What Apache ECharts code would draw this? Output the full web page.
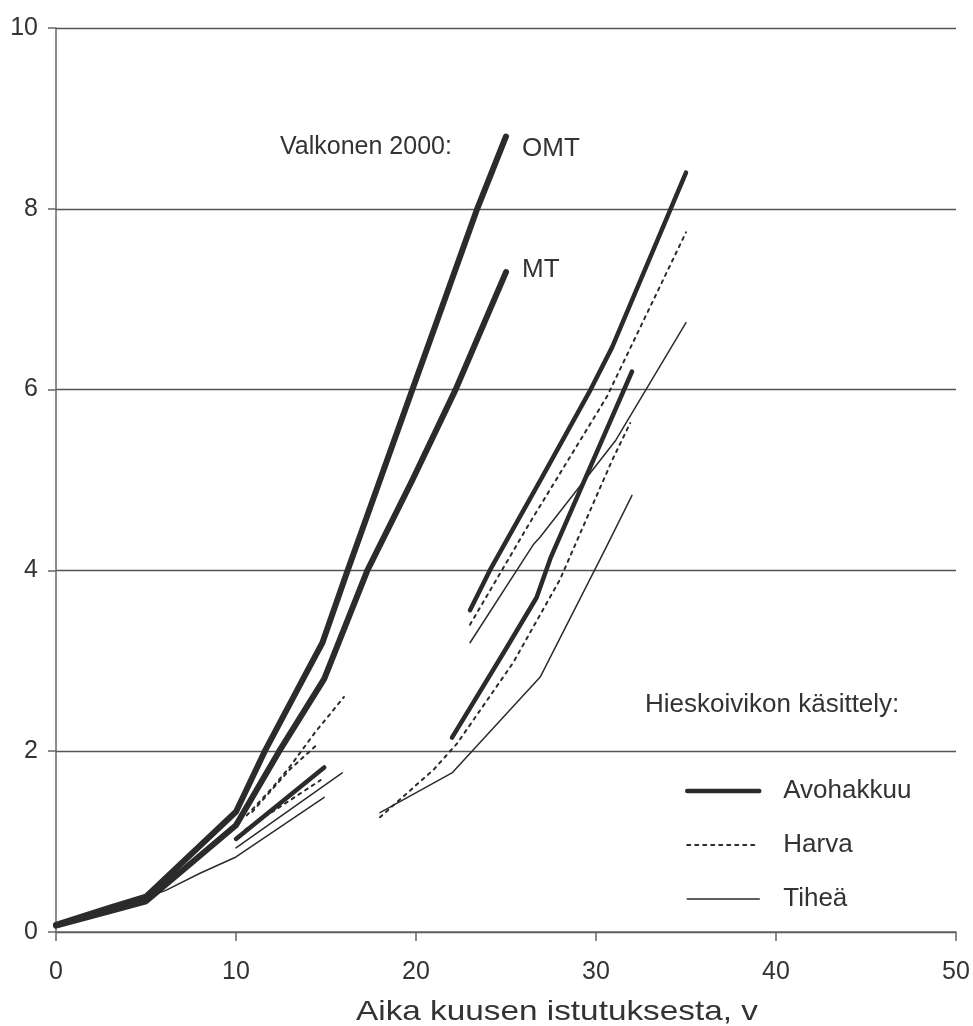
<!DOCTYPE html>
<html>
<head>
<meta charset="utf-8">
<script src="https://cdn.jsdelivr.net/npm/echarts@6/dist/echarts.min.js"></script>
<style>
  html, body { margin: 0; padding: 0; background: #fff; }
  #chart { width: 973px; height: 1026px; }
</style>
</head>
<body>
<div id="chart"></div>
<script>
// axis ticks
const xTicks = [0, 10, 20, 30, 40, 50]
const yTicks = [0, 2, 4, 6, 8, 10]

// Valkonen 2000 curves
const valkonenOMT = [[0, 0.08], [3, 0.27], [5, 0.39], [10, 1.33], [11.6, 2.0], [13.7, 2.79], [14.8, 3.2], [16.2, 4.0], [18, 5.0], [19.8, 6.0], [21.6, 7.0], [23.4, 8.0], [25, 8.8]]
const valkonenMT = [[0, 0.07], [3, 0.23], [5, 0.34], [10, 1.18], [12.4, 2.0], [14.9, 2.8], [17.3, 4.0], [19.8, 5.0], [22.2, 6.0], [25, 7.3]]

// group 1 (age 10-16)
const avoA = [[10, 1.03], [14.9, 1.82]]
const harvaA = [[10.5, 1.13], [14.7, 1.68]]
const harvaA2 = [[10.6, 1.29], [12, 1.59], [13, 1.83], [14.4, 2.21], [16, 2.6]]
const harvaA3 = [[10.9, 1.33], [13, 1.8], [14.6, 2.09]]
const tiheA = [[10, 0.93], [15.9, 1.76]]
const tiheA2 = [[5, 0.38], [6.1, 0.46], [8, 0.65], [10, 0.83], [14.9, 1.49]]

// group 2 (age 18-32)
const avoB = [[22, 2.15], [24.9, 3.1], [26.7, 3.7], [27.5, 4.15], [32, 6.2]]
const harvaB = [[18, 1.27], [21, 1.8], [22.3, 2.09], [25.4, 2.98], [28, 3.9], [30.9, 5.22], [31.9, 5.63]]
const tiheB = [[18, 1.32], [22, 1.76], [26.9, 2.82], [30.5, 4.23], [32, 4.83]]

// group 3 (age 23-35)
const avoC = [[23, 3.56], [24.1, 4.0], [27, 5.03], [29.7, 6.0], [30.9, 6.47], [35, 8.4]]
const harvaC = [[23, 3.4], [26.3, 4.52], [30.6, 5.92], [35, 7.74]]
const tiheC = [[23, 3.2], [26.5, 4.28], [26.9, 4.37], [31.1, 5.44], [35, 6.74]]

const legendNames = ['Avohakkuu', 'Harva', 'Tiheä']

const ink = '#2b2b2b'
const font = 'Liberation Sans, Arial, sans-serif'

const styles = {
  Avohakkuu: { width: 4.5, type: 'solid' },
  Harva: { width: 2, type: [3, 5] },
  Tiheä: { width: 1.5, type: 'solid' }
}

function measured (name, data) {
  return {
    name: name,
    type: 'line',
    data: data,
    symbol: 'none',
    silent: true,
    lineStyle: { color: ink, width: styles[name].width, type: styles[name].type, cap: 'round' },
    itemStyle: { color: ink }
  }
}

function valkonen (name, data, offset) {
  return {
    name: name,
    type: 'line',
    data: data,
    symbol: 'none',
    silent: true,
    lineStyle: { color: ink, width: 6, cap: 'round', join: 'round' },
    endLabel: {
      show: true,
      formatter: name,
      distance: 0,
      offset: offset,
      fontFamily: font,
      fontSize: 26,
      color: '#333'
    }
  }
}

const chart = echarts.init(document.getElementById('chart'))
chart.setOption({
  animation: false,
  grid: { left: 56, right: 17, top: 28, bottom: 94 },
  xAxis: {
    type: 'value',
    min: xTicks[0],
    max: xTicks[xTicks.length - 1],
    interval: 10,
    axisLine: { show: true, lineStyle: { color: '#666', width: 1.5 } },
    axisTick: { show: true, length: 9, lineStyle: { color: '#666', width: 1.5 } },
    axisLabel: { fontFamily: font, fontSize: 25, color: '#333', margin: 28 },
    splitLine: { show: false }
  },
  yAxis: {
    type: 'value',
    min: yTicks[0],
    max: yTicks[yTicks.length - 1],
    interval: 2,
    axisLine: { show: true, lineStyle: { color: '#666', width: 1.5 } },
    axisTick: { show: true, length: 8, lineStyle: { color: '#666', width: 1.5 } },
    axisLabel: { fontFamily: font, fontSize: 25, color: '#333', margin: 18 },
    splitLine: { show: true, lineStyle: { color: '#555', width: 1.3 } }
  },
  legend: {
    data: legendNames.map(function (n) {
      return {
        name: n,
        itemStyle: { opacity: 0 },
        lineStyle: { width: styles[n].width, type: styles[n].type, color: ink }
      }
    }),
    orient: 'vertical',
    left: 680,
    top: 773,
    itemWidth: 72,
    itemHeight: 14,
    itemGap: 28,
    textStyle: { fontFamily: font, fontSize: 26, color: '#333', padding: [0, 0, 0, 19] }
  },
  graphic: [
    {
      type: 'text', left: 280, top: 135,
      style: { text: 'Valkonen 2000:', fontFamily: font, fontSize: 25, fill: '#333' }
    },
    {
      type: 'text', left: 645, top: 692,
      style: { text: 'Hieskoivikon käsittely:', fontFamily: font, fontSize: 26, fill: '#333' }
    },
    {
      type: 'text', left: 356, top: 998,
      style: { text: 'Aika kuusen istutuksesta, v', fontFamily: font, fontSize: 28, fill: '#333' },
      scaleX: 1.19
    }
  ],
  series: [
    valkonen('OMT', valkonenOMT, [16, 12]),
    valkonen('MT', valkonenMT, [16, -2]),
    measured('Avohakkuu', avoA),
    measured('Harva', harvaA),
    measured('Harva', harvaA2),
    measured('Harva', harvaA3),
    measured('Tiheä', tiheA),
    measured('Tiheä', tiheA2),
    measured('Avohakkuu', avoB),
    measured('Harva', harvaB),
    measured('Tiheä', tiheB),
    measured('Avohakkuu', avoC),
    measured('Harva', harvaC),
    measured('Tiheä', tiheC)
  ]
})
</script>
</body>
</html>
